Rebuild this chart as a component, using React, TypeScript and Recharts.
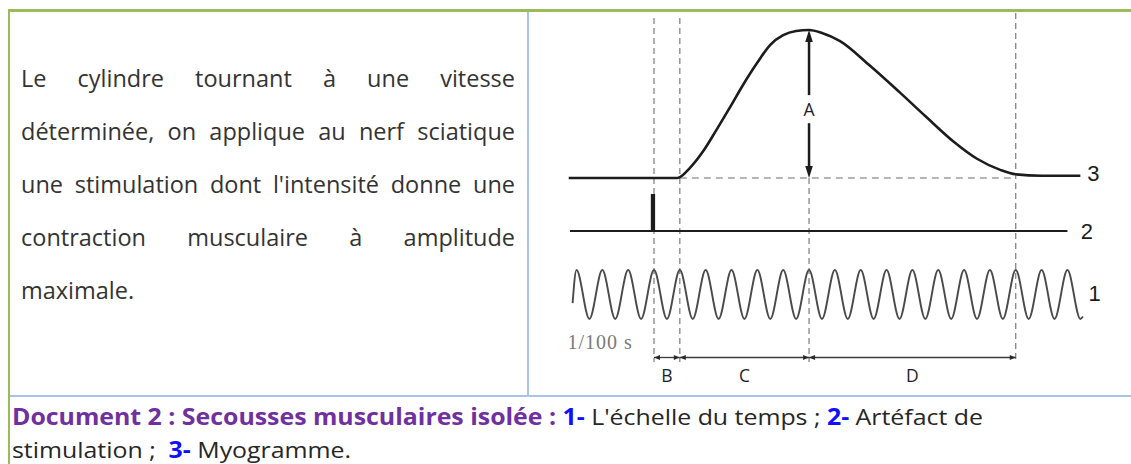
import React from 'react';
import { ComposedChart, Line, XAxis, YAxis, ReferenceLine, ReferenceDot } from 'recharts';

// ---- data (time in ms after the stimulation) ----

// myogram (3): amplitude in % of the maximum
const MYO_T = [-33, 0, 9, 14, 19, 24, 29.5, 34.5, 40, 45, 50, 55, 60, 65, 72, 83.5, 95, 105.5, 116, 125, 134, 140, 150, 165];
const MYO_A = [0, 0, 0, 7, 18, 32, 48, 63, 78, 90, 96.5, 99.3, 100, 98, 92.5, 76, 58, 41, 24.5, 13, 5.5, 2.5, 1.5, 1.5];

// stimulation artefact (2)
const STIM_T = [-32.5, -0.8, -0.8, 0, 0, 160];
const STIM_V = [0, 0, 1, 1, 0, 0];

// time scale (1): tuning fork trace, one period = 1/100 s
const SCALE_T = [
  -31.5, -30, -25, -20, -15, -10, -5, 0, 5, 10, 15, 20, 25, 30, 35, 40, 45, 50, 55, 60, 65,
  70, 75, 80, 85, 90, 95, 100, 105, 110, 115, 120, 125, 130, 135, 140, 145, 150, 155, 160, 165, 166,
];
const SCALE_V = [
  -0.35, 1, -1, 1, -1, 1, -1, 1, -1, 1, -1, 1, -1, 1, -1, 1, -1, 1, -1, 1, -1,
  1, -1, 1, -1, 1, -1, 1, -1, 1, -1, 1, -1, 1, -1, 1, -1, 1, -1, 1, -1, -0.9,
];

// stimulation, start of contraction, peak, end of relaxation
const EVENT_T = [0, 10, 60, 140];
const PHASE_LABELS = ['B', 'C', 'D'];
const TRACE_LABELS = ['1', '2', '3'];
const AMPLITUDE_LABEL = 'A';
const SCALE_UNIT = '1/100 s';

const TEXT_LINES = [
  'Le cylindre tournant à une vitesse',
  'déterminée, on applique au nerf sciatique',
  "une stimulation dont l'intensité donne une",
  'contraction musculaire à amplitude',
  'maximale.',
];

// ---- layout ----
const CHART_LEFT = 529;
const CHART_TOP = 12;
const CHART_W = 602;
const CHART_H = 384;
const PX_PER_MS = 2.584;
const STIM_X = 654;
const X_DOMAIN: [number, number] = [
  (CHART_LEFT - STIM_X) / PX_PER_MS,
  (CHART_LEFT + CHART_W - STIM_X) / PX_PER_MS,
];

// domain so that v0 lands on pixel px0 and v1 on px1 (page coords)
const bandDomain = (v0: number, px0: number, v1: number, px1: number): [number, number] => {
  const k = (px0 - px1) / (v1 - v0);
  return [v0 - (CHART_TOP + CHART_H - px0) / k, v1 + (px1 - CHART_TOP) / k];
};

const MYO_DOMAIN = bandDomain(0, 178, 100, 30);
const STIM_DOMAIN = bandDomain(0, 231, 1, 195);
const SCALE_DOMAIN = bandDomain(-1, 319, 1, 270);
const FRAME_DOMAIN: [number, number] = [CHART_TOP, CHART_TOP + CHART_H];

const DASH_TOP = 18;
const DASH_BOTTOM = 362;
const ARROW_Y = 357.5;
const PHASE_LABEL_Y = 375;

const myoData = MYO_T.map((t, i) => ({ t, v: MYO_A[i] }));
const stimData = STIM_T.map((t, i) => ({ t, v: STIM_V[i] }));
const scaleData = SCALE_T.map((t, i) => ({ t, v: SCALE_V[i] }));

const INK = '#1c1c1c';
const DASH = '#6f6f6f';

const headShape = (dir: 'up' | 'down' | 'left' | 'right', len: number, half: number, color: string) =>
  (p: any) => {
    const { cx, cy } = p;
    let d = '';
    if (dir === 'up') d = `M${cx},${cy} L${cx - half},${cy + len} L${cx + half},${cy + len} Z`;
    if (dir === 'down') d = `M${cx},${cy} L${cx - half},${cy - len} L${cx + half},${cy - len} Z`;
    if (dir === 'left') d = `M${cx},${cy} L${cx + len},${cy - half} L${cx + len},${cy + half} Z`;
    if (dir === 'right') d = `M${cx},${cy} L${cx - len},${cy - half} L${cx - len},${cy + half} Z`;
    return <path d={d} fill={color} stroke="none" />;
  };

const textShape = (label: string, style: React.CSSProperties, anchor: 'start' | 'middle' = 'middle') =>
  (p: any) => (
    <text x={p.cx} y={p.cy} textAnchor={anchor} dominantBaseline="central" style={style}>
      {label}
    </text>
  );

const traceLabelStyle: React.CSSProperties = { fontFamily: '"Liberation Sans", Arial, sans-serif', fontSize: 22, fill: INK };
const phaseLabelStyle: React.CSSProperties = { fontFamily: '"Open Sans", sans-serif', fontSize: 17.5, fontWeight: 500, fill: '#1e1e2c' };

const Myogram = () => {
  const peakT = EVENT_T[2];
  return (
    <ComposedChart width={CHART_W} height={CHART_H} margin={{ top: 0, right: 0, bottom: 0, left: 0 }}>
      <XAxis type="number" dataKey="t" domain={X_DOMAIN} allowDataOverflow hide />
      <YAxis yAxisId="myo" type="number" domain={MYO_DOMAIN} allowDataOverflow hide />
      <YAxis yAxisId="stim" type="number" domain={STIM_DOMAIN} allowDataOverflow hide />
      <YAxis yAxisId="scale" type="number" domain={SCALE_DOMAIN} allowDataOverflow hide />
      <YAxis yAxisId="frame" type="number" domain={FRAME_DOMAIN} reversed allowDataOverflow hide />

      {/* vertical dashed guides */}
      {EVENT_T.map((t, i) => (
        <ReferenceLine
          key={'g' + i}
          yAxisId="frame"
          ifOverflow="visible"
          segment={[{ x: t, y: t === peakT ? 178 : i === 3 ? 13 : DASH_TOP }, { x: t, y: DASH_BOTTOM }]}
          stroke={DASH}
          strokeWidth={1.1}
          strokeDasharray="6 4"
        />
      ))}
      {/* baseline of the myogram, dashed */}
      <ReferenceLine
        yAxisId="myo"
        ifOverflow="visible"
        segment={[{ x: EVENT_T[1], y: 0 }, { x: EVENT_T[3], y: 0 }]}
        stroke={DASH}
        strokeWidth={1.1}
        strokeDasharray="7 5"
      />

      <Line yAxisId="scale" data={scaleData} dataKey="v" type="monotone" dot={false} stroke="#4a4a4a" strokeWidth={1.9} isAnimationActive={false} />
      <Line yAxisId="stim" data={stimData} dataKey="v" type="linear" dot={false} stroke={INK} strokeWidth={2.2} isAnimationActive={false} />
      <Line yAxisId="myo" data={myoData} dataKey="v" type="monotone" dot={false} stroke={INK} strokeWidth={2.6} isAnimationActive={false} />

      {/* amplitude arrow A */}
      <ReferenceLine yAxisId="myo" ifOverflow="visible" segment={[{ x: peakT, y: 96 }, { x: peakT, y: 56 }]} stroke={INK} strokeWidth={2.5} />
      <ReferenceLine yAxisId="myo" ifOverflow="visible" segment={[{ x: peakT, y: 37 }, { x: peakT, y: 4 }]} stroke={INK} strokeWidth={2.5} />
      <ReferenceDot yAxisId="myo" x={peakT} y={100} ifOverflow="visible" shape={headShape('up', 12, 3.8, INK)} />
      <ReferenceDot yAxisId="myo" x={peakT} y={0} ifOverflow="visible" shape={headShape('down', 12, 3.8, INK)} />
      <ReferenceDot yAxisId="myo" x={peakT} y={46.5} ifOverflow="visible" shape={textShape(AMPLITUDE_LABEL, phaseLabelStyle)} />

      {/* phase arrows B, C, D */}
      {PHASE_LABELS.map((lab, i) => {
        const a = EVENT_T[i];
        const b = EVENT_T[i + 1];
        return (
          <React.Fragment key={lab}>
            <ReferenceLine yAxisId="frame" ifOverflow="visible" segment={[{ x: a, y: ARROW_Y }, { x: b, y: ARROW_Y }]} stroke="#3a3a3a" strokeWidth={1.3} />
            <ReferenceDot yAxisId="frame" x={a} y={ARROW_Y} ifOverflow="visible" shape={headShape('left', 6, 2.6, '#2a2a2a')} />
            <ReferenceDot yAxisId="frame" x={b} y={ARROW_Y} ifOverflow="visible" shape={headShape('right', 6, 2.6, '#2a2a2a')} />
            <ReferenceDot yAxisId="frame" x={(a + b) / 2} y={PHASE_LABEL_Y} ifOverflow="visible" shape={textShape(lab, phaseLabelStyle)} />
          </React.Fragment>
        );
      })}

      {/* trace numbers */}
      <ReferenceDot yAxisId="frame" x={170.5} y={293} ifOverflow="visible" shape={textShape(TRACE_LABELS[0], traceLabelStyle)} />
      <ReferenceDot yAxisId="frame" x={167.5} y={231} ifOverflow="visible" shape={textShape(TRACE_LABELS[1], traceLabelStyle)} />
      <ReferenceDot yAxisId="frame" x={170} y={173} ifOverflow="visible" shape={textShape(TRACE_LABELS[2], traceLabelStyle)} />

      <ReferenceDot
        yAxisId="frame"
        x={-33.5}
        y={342}
        ifOverflow="visible"
        shape={textShape(SCALE_UNIT, { fontFamily: '"Liberation Serif", serif', fontSize: 20, fill: '#7a7a7a', letterSpacing: 1 }, 'start')}
      />
    </ComposedChart>
  );
};

const GREEN = '#9bbb59';
const BLUE = '#a7c4e8';

const App = () => {
  const textStyle: React.CSSProperties = {
    position: 'absolute',
    left: 21,
    width: 494,
    height: 53,
    lineHeight: '53px',
    fontFamily: '"Open Sans", sans-serif',
    fontSize: 23.5,
    color: '#333',
    whiteSpace: 'nowrap',
  };
  const capStyle: React.CSSProperties = {
    position: 'absolute',
    left: 12,
    height: 32,
    lineHeight: '32px',
    fontFamily: '"Open Sans", sans-serif',
    fontSize: 22.5,
    color: '#262626',
    whiteSpace: 'pre',
    transform: 'scaleX(1.105)',
    transformOrigin: '0 0',
  };
  const purple: React.CSSProperties = { color: '#7030a0', fontWeight: 700 };
  const blue: React.CSSProperties = { color: '#1010ff', fontWeight: 700 };

  return (
    <div style={{ position: 'absolute', left: 0, top: 0, width: 1131, height: 464, background: '#fff', overflow: 'hidden' }}>
      {/* frame */}
      <div style={{ position: 'absolute', left: 8, top: 9, width: 1123, height: 3, background: GREEN }} />
      <div style={{ position: 'absolute', left: 8, top: 9, width: 2, height: 455, background: GREEN }} />
      <div style={{ position: 'absolute', left: 527, top: 12, width: 2, height: 384, background: BLUE }} />
      <div style={{ position: 'absolute', left: 10, top: 395, width: 1121, height: 2, background: BLUE }} />

      {/* left text */}
      {TEXT_LINES.map((line, i) => (
        <div
          key={i}
          style={{ ...textStyle, top: 51.9 + i * 53, textAlign: 'justify', textAlignLast: i < TEXT_LINES.length - 1 ? 'justify' : 'left' }}
        >
          {line}
        </div>
      ))}

      {/* chart */}
      <div style={{ position: 'absolute', left: CHART_LEFT, top: CHART_TOP }}>
        <Myogram />
      </div>

      {/* caption */}
      <div style={{ ...capStyle, top: 401 }}>
        <span style={purple}>Document 2 : Secousses musculaires isolée : </span>
        <span style={blue}>1-</span>
        <span> L'échelle du temps ; </span>
        <span style={blue}>2-</span>
        <span> Artéfact de</span>
      </div>
      <div style={{ ...capStyle, top: 433.5 }}>
        <span>stimulation ;  </span>
        <span style={blue}>3-</span>
        <span> Myogramme.</span>
      </div>
    </div>
  );
};

export default App;
